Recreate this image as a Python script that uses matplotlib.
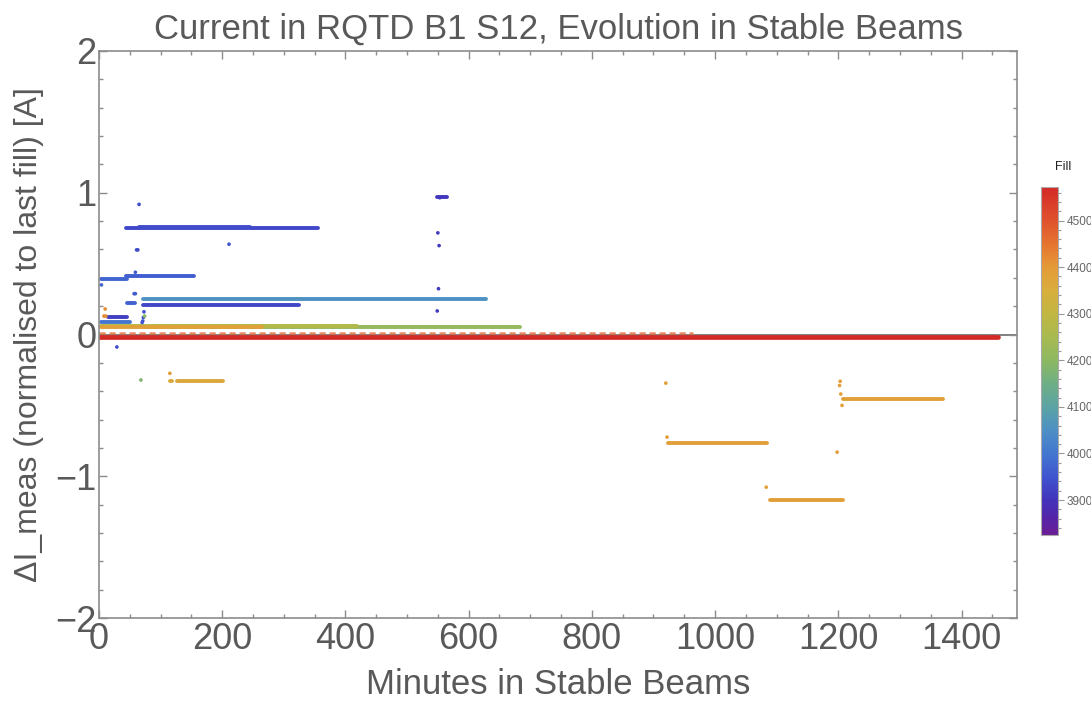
import matplotlib
matplotlib.use("Agg")
import matplotlib.pyplot as plt
from matplotlib.colors import LinearSegmentedColormap, Normalize
from matplotlib.ticker import MultipleLocator
import matplotlib.cm as cm

plt.rcParams['font.family'] = ['Liberation Sans', 'DejaVu Sans']

# ---------------- data ----------------
# horizontal runs of measurements: fill number, start minute, end minute, delta current
seg_fill = [3932, 3936, 3965, 3975, 4055, 3932, 3970, 3920, 3995,
            4270, 4215, 4385, 4365, 4365, 3905, 4390, 4390, 4390, 4570]
seg_x0 = [44, 65, 44, 3, 72, 72, 45, 15, 3,
          3, 70, 3, 115, 127, 549, 924, 1089, 1208, 0]
seg_x1 = [356, 245, 155, 45, 628, 325, 58, 45, 50,
          418, 683, 264, 118, 202, 565, 1084, 1208, 1370, 1459]
seg_y = [0.754, 0.758, 0.413, 0.392, 0.253, 0.208, 0.225, 0.121, 0.090,
         0.060, 0.050, 0.055, -0.326, -0.326, 0.970, -0.766, -1.170, -0.455, -0.016]

# scattered band of an intermediate fill just above zero
band_fill = 4470
band_x = [0, 964]
band_y = 0.008

# isolated points
pt_x = [65, 61, 63, 211, 59, 4, 57, 59, 29, 115, 68, 10, 8, 11,
        70, 71, 72, 73, 74, 552, 551, 549, 550, 553,
        920, 922, 1083, 1203, 1202, 1204, 1206, 1198]
pt_y = [0.918, 0.597, 0.597, 0.637, 0.439, 0.350, 0.288, 0.288, -0.088, -0.274, -0.321, 0.180, 0.130, 0.130,
        0.085, 0.095, 0.120, 0.160, 0.130, 0.627, 0.323, 0.166, 0.717, 0.965,
        -0.343, -0.724, -1.077, -0.330, -0.360, -0.420, -0.500, -0.830]
pt_fill = [3936, 3936, 3936, 3950, 3960, 3975, 3960, 3960, 3936, 4390, 4180, 4420, 4420, 4420,
           3950, 3950, 3950, 3950, 4200, 3915, 3915, 3915, 3915, 3905,
           4390, 4390, 4390, 4390, 4390, 4390, 4390, 4390]

fill_min, fill_max = 3825, 4572
cbar_ticks = [3900, 4000, 4100, 4200, 4300, 4400, 4500]
x_ticks = [0, 200, 400, 600, 800, 1000, 1200, 1400]
y_ticks = [-2, -1, 0, 1, 2]

# ---------------- colormap ----------------
anchors = [(3825, '#6c1e94'), (3860, '#5524a8'), (3900, '#4234bb'), (3950, '#3f55cf'),
           (4000, '#4377d0'), (4050, '#4d90c4'), (4100, '#5ba3a4'), (4150, '#6eae85'),
           (4200, '#8db862'), (4250, '#a8ba50'), (4300, '#c1b743'), (4350, '#d8ae3c'),
           (4400, '#e49b38'), (4450, '#e6742f'), (4500, '#e0522e'), (4572, '#d42a26')]
cmap = LinearSegmentedColormap.from_list(
    'rainbow_m', [((v - fill_min) / (fill_max - fill_min), c) for v, c in anchors])
norm = Normalize(vmin=fill_min, vmax=fill_max)

# ---------------- figure ----------------
W, H = 1091, 706
fig = plt.figure(figsize=(W / 100, H / 100), dpi=100)
ax = fig.add_axes([99 / W, 1 - 618 / H, (1017 - 99) / W, (618 - 51) / H])

grey = '#8c8c8c'
txt = '#595959'

ax.axhline(0, color='#777777', lw=1.3, zorder=1.5)

order = sorted(range(len(seg_fill)), key=lambda i: seg_fill[i])
for k, i in enumerate(order):
    lw = 3.4 if seg_fill[i] == 4570 else 2.8
    ax.plot([seg_x0[i], seg_x1[i]], [seg_y[i], seg_y[i]], color=cmap(norm(seg_fill[i])),
            lw=lw, solid_capstyle='round', zorder=2 + k * 0.01)

ax.plot(band_x, [band_y, band_y], color=cmap(norm(band_fill)), lw=1.8,
        dashes=(2.5, 1.5), alpha=0.75, zorder=2.5)

ax.scatter(pt_x, pt_y, c=[cmap(norm(f)) for f in pt_fill], s=7, linewidths=0, zorder=3)

ax.set_xlim(0, 1490)
ax.set_ylim(-2, 2)
ax.set_xticks(x_ticks)
ax.set_yticks(y_ticks)
ax.set_yticklabels(['\u22122', '\u22121', '0', '1', '2'])
ax.xaxis.set_minor_locator(MultipleLocator(50))
ax.yaxis.set_minor_locator(MultipleLocator(0.2))
ax.tick_params(which='both', direction='in', top=True, right=True, color=grey,
               labelsize=26, labelcolor=txt, width=1)
ax.tick_params(which='major', length=6, pad=2)
ax.tick_params(which='minor', length=3)
ax.tick_params(axis='x', pad=3)
for s in ax.spines.values():
    s.set_color(grey)
    s.set_linewidth(1.2)

ax.set_xlabel('Minutes in Stable Beams', fontsize=25, color=txt, labelpad=8)
ax.set_ylabel('\u0394I_meas (normalised to last fill) [A]', fontsize=23, color=txt, labelpad=8)
ax.set_title('Current in RQTD B1 S12, Evolution in Stable Beams', fontsize=25, color=txt, pad=9)

# ---------------- colorbar ----------------
cax = fig.add_axes([1041 / W, 1 - 535 / H, 17 / W, (535 - 187) / H])
sm = cm.ScalarMappable(norm=norm, cmap=cmap)
cb = fig.colorbar(sm, cax=cax, ticks=cbar_ticks)
cb.outline.set_edgecolor('#aaaaaa')
cb.outline.set_linewidth(0.8)
cax.yaxis.set_minor_locator(MultipleLocator(20))
cax.tick_params(which='both', direction='out', color='#999999', labelsize=8.5,
                labelcolor='#666666', width=0.8)
cax.tick_params(which='major', length=4, pad=2)
cax.tick_params(which='minor', length=2)
fig.text(1063 / W, 1 - 167 / H, 'Fill', ha='center', va='center', fontsize=9, color='#222222')

fig.savefig('out.png', dpi=100)
